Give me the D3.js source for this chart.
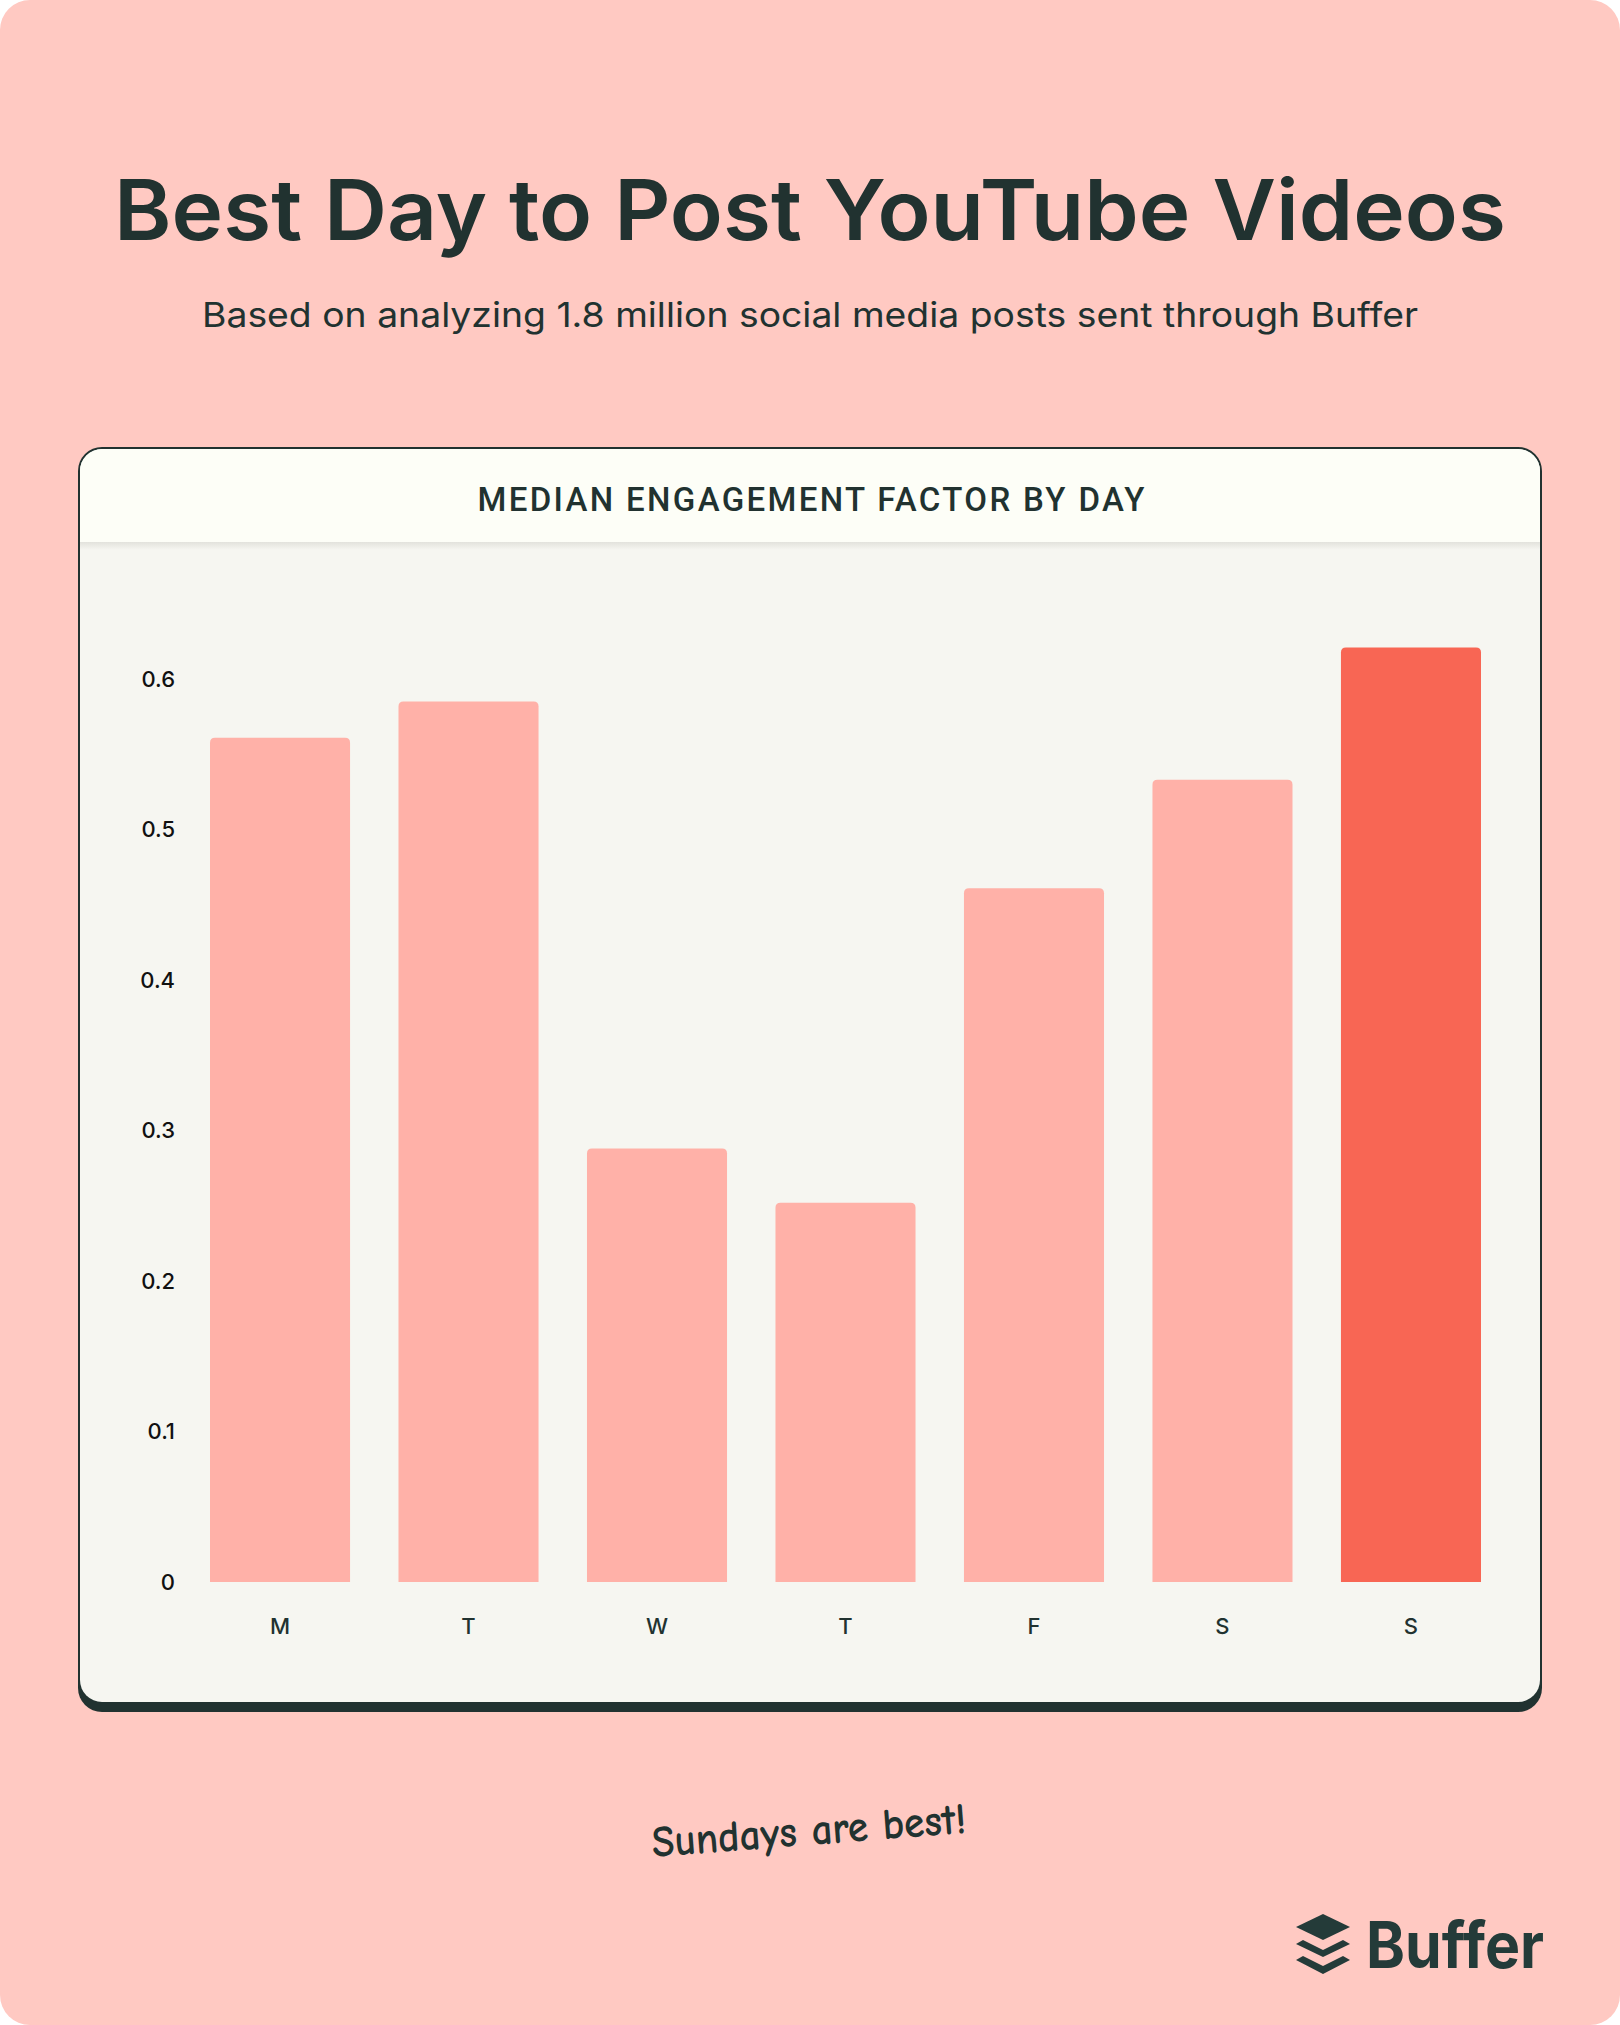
<!DOCTYPE html>
<html>
<head>
<meta charset="utf-8">
<script src="https://cdn.jsdelivr.net/npm/d3@7"></script>
<style>
  html, body { margin: 0; padding: 0; background: #ffffff; }
  svg { display: block; }
</style>
</head>
<body>
<svg id="chart" width="1620" height="2025"></svg>
<script>
// ---- data ----
const days = ["M", "T", "W", "T", "F", "S", "S"];
const dayKeys = ["Mon", "Tue", "Wed", "Thu", "Fri", "Sat", "Sun"];
const engagement = [0.561, 0.585, 0.288, 0.252, 0.461, 0.533, 0.621];
const yTicks = [0, 0.1, 0.2, 0.3, 0.4, 0.5, 0.6];
const highlightKey = "Sun";

const titleText = "Best Day to Post YouTube Videos";
const subtitleText = "Based on analyzing 1.8 million social media posts sent through Buffer";
const panelTitle = "MEDIAN ENGAGEMENT FACTOR BY DAY";
const noteText = "Sundays are best!";

// ---- styles ----
const C = {
  page: "#FFC9C2",
  dark: "#213230",
  header: "#FDFEF7",
  plot: "#F6F6F1",
  bar: "#FFB1A8",
  barHi: "#F86654",
  logo: "#243B39"
};

const svg = d3.select("#chart");

// page background with rounded corners
svg.append("rect").attr("x", 0).attr("y", 0).attr("width", 1620).attr("height", 2025)
  .attr("rx", 30).attr("fill", C.page);

// title + subtitle
svg.append("text").attr("x", 810).attr("y", 240).attr("text-anchor", "middle")
  .attr("font-family", "Inter, 'Noto Sans', sans-serif").attr("font-weight", 600)
  .attr("font-size", 84).attr("fill", C.dark)
  .attr("textLength", 1392).attr("lengthAdjust", "spacingAndGlyphs")
  .text(titleText);

svg.append("text").attr("x", 810).attr("y", 327).attr("text-anchor", "middle")
  .attr("font-family", "Inter, 'Noto Sans', sans-serif").attr("font-weight", 400)
  .attr("font-size", 34).attr("fill", C.dark)
  .attr("textLength", 1216).attr("lengthAdjust", "spacingAndGlyphs")
  .text(subtitleText);

// panel
const P = { x: 78, y: 447, w: 1464, h: 1265 };
svg.append("rect").attr("x", P.x).attr("y", P.y).attr("width", P.w).attr("height", P.h)
  .attr("rx", 24).attr("fill", C.dark);
const inner = { x: P.x + 2, y: P.y + 2, w: P.w - 4, h: P.h - 12 };
const defs = svg.append("defs");
const clip = defs.append("clipPath").attr("id", "panelClip");
clip.append("rect").attr("x", inner.x).attr("y", inner.y).attr("width", inner.w).attr("height", inner.h).attr("rx", 22);
const panel = svg.append("g").attr("clip-path", "url(#panelClip)");
panel.append("rect").attr("x", inner.x).attr("y", inner.y).attr("width", inner.w).attr("height", inner.h).attr("fill", C.plot);
panel.append("rect").attr("x", inner.x).attr("y", inner.y).attr("width", inner.w).attr("height", 542 - inner.y).attr("fill", C.header);
// subtle shadow under header
const grad = defs.append("linearGradient").attr("id", "hdrShadow").attr("x1", 0).attr("y1", 0).attr("x2", 0).attr("y2", 1);
grad.append("stop").attr("offset", 0).attr("stop-color", "#e2e2dc");
grad.append("stop").attr("offset", 1).attr("stop-color", C.plot);
panel.append("rect").attr("x", inner.x).attr("y", 542).attr("width", inner.w).attr("height", 8).attr("fill", "url(#hdrShadow)");

svg.append("text").attr("x", 811).attr("y", 511).attr("text-anchor", "middle")
  .attr("font-family", "Roboto, Inter, sans-serif").attr("font-weight", 500)
  .attr("font-size", 33).attr("fill", C.dark)
  .attr("textLength", 667).attr("lengthAdjust", "spacing")
  .text(panelTitle);

// scales
const x = d3.scaleBand().domain(dayKeys).range([210, 1481]).paddingInner(0.257).paddingOuter(0);
const y = d3.scaleLinear().domain([0, 0.6]).range([1582, 679]);

// y axis (labels only)
const yAxis = d3.axisLeft(y).tickValues(yTicks).tickSize(0).tickPadding(0)
  .tickFormat(d => d === 0 ? "0" : d3.format(".1f")(d));
const gy = svg.append("g").attr("transform", "translate(175,0)").call(yAxis);
gy.select(".domain").remove();
gy.selectAll("text").attr("font-family", "Inter, 'Noto Sans', sans-serif").attr("font-size", 22)
  .attr("fill", "#111").attr("font-weight", 500);

// x axis (labels only)
const xAxis = d3.axisBottom(x).tickSize(0).tickPadding(0).tickFormat((d, i) => days[i]);
const gx = svg.append("g").attr("transform", "translate(0,1618)").call(xAxis);
gx.select(".domain").remove();
gx.selectAll("text").attr("font-family", "Inter, 'Noto Sans', sans-serif").attr("font-size", 22)
  .attr("fill", C.dark).attr("font-weight", 500);

// bars with rounded top corners
function barPath(x0, y0, w, h, r) {
  r = Math.min(r, h, w / 2);
  return `M${x0},${y0 + h}V${y0 + r}Q${x0},${y0} ${x0 + r},${y0}H${x0 + w - r}Q${x0 + w},${y0} ${x0 + w},${y0 + r}V${y0 + h}Z`;
}
svg.append("g").selectAll("path").data(engagement).join("path")
  .attr("d", (v, i) => barPath(x(dayKeys[i]), y(v), x.bandwidth(), y(0) - y(v), 5))
  .attr("fill", (v, i) => dayKeys[i] === highlightKey ? C.barHi : C.bar);

// handwritten note
svg.append("text").attr("transform", "translate(810,1845) rotate(-4.4)")
  .attr("text-anchor", "middle")
  .attr("font-family", "'Comic Neue', 'Comic Sans MS', 'Lato', cursive").attr("font-size", 44)
  .attr("font-weight", 700)
  .attr("fill", C.dark).attr("textLength", 315).attr("lengthAdjust", "spacingAndGlyphs")
  .text(noteText);

// Buffer logo
const logo = svg.append("g").attr("fill", C.logo);
// top diamond
logo.append("path").attr("d", "M1323,1914 L1350,1927 L1323,1940 L1296,1927 Z");
// middle chevron
logo.append("path").attr("d", "M1296,1944 L1303,1940 L1323,1950 L1343,1940 L1350,1944 L1323,1957 Z");
// bottom chevron
logo.append("path").attr("d", "M1296,1960 L1303,1956 L1323,1966 L1343,1956 L1350,1960 L1323,1974 Z");
logo.append("text").attr("x", 1366).attr("y", 1968)
  .attr("font-family", "Inter, 'Noto Sans', sans-serif").attr("font-weight", 700)
  .attr("font-size", 64).attr("textLength", 178).attr("lengthAdjust", "spacingAndGlyphs")
  .text("Buffer");
</script>
</body>
</html>
